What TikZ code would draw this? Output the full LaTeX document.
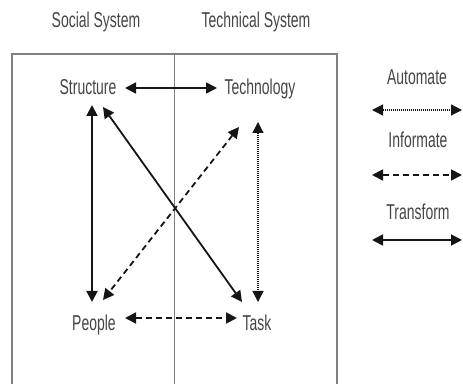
\documentclass[tikz,border=0pt]{standalone}
\usepackage{fontspec}
\usetikzlibrary{arrows.meta}
\newfontfamily\labelfont[FakeStretch=0.65]{Liberation Sans}
\definecolor{txtgray}{HTML}{454545}
\definecolor{framegray}{HTML}{808080}
\definecolor{inkblack}{HTML}{151515}
\begin{document}
\begin{tikzpicture}[x=1pt,y=1pt,
  lbl/.style={anchor=base,inner sep=0pt,text=txtgray,font=\labelfont\fontsize{21.5}{24}\selectfont},
  link/.style={draw=inkblack,line width=1.8pt,
    {Triangle[length=11pt,width=11pt]}-{Triangle[length=11pt,width=11pt]}},
  transformline/.style={link},
  informline/.style={link,dash pattern=on 6pt off 4pt},
  automateline/.style={link,line width=1.2pt,dash pattern=on 0.9pt off 1.1pt},
  frame/.style={draw=framegray,line width=1.3pt},
  divider/.style={draw=framegray,line width=0.8pt}]
\useasboundingbox (0,0) rectangle (463,383);

% column headings
\node[lbl] (social) at (96,355) {Social System};
\node[lbl] (technical) at (256,355) {Technical System};

% open frame and the social / technical split
\draw[frame] (12,-5) -- (12,329) -- (337,329) -- (337,-5);
\draw[divider] (174,329) -- (174,-5);

% the four elements
\node[lbl] (structure) at (88,288) {Structure};
\node[lbl] (technology) at (260,288) {Technology};
\node[lbl] (people) at (94,53) {People};
\node[lbl] (task) at (257,53) {Task};

% relations
\draw[transformline] ([shift={(37pt,7pt)}]structure.base) -- ([shift={(-43pt,7pt)}]technology.base);
\draw[transformline] ([shift={(4pt,-10pt)}]structure.base) -- ([shift={(-2pt,28pt)}]people.base);
\draw[transformline] ([shift={(15pt,-12pt)}]structure.base) -- ([shift={(-15pt,28pt)}]task.base);
\draw[informline] ([shift={(-21pt,-32pt)}]technology.base) -- ([shift={(9pt,30pt)}]people.base);
\draw[automateline] ([shift={(-2pt,-27pt)}]technology.base) -- ([shift={(1pt,28pt)}]task.base);
\draw[informline] ([shift={(31pt,12pt)}]people.base) -- ([shift={(-20pt,12pt)}]task.base);

% legend
\node[lbl] (automate) at (417,298) {Automate};
\node[lbl] (informate) at (418,235.5) {Informate};
\node[lbl] (transform) at (418,163.5) {Transform};
\coordinate (autoL) at (372,273);
\coordinate (autoR) at (462,273);
\coordinate (infoL) at (372,208);
\coordinate (infoR) at (462,208);
\coordinate (transL) at (372,143);
\coordinate (transR) at (462,143);
\draw[automateline] (autoL) -- (autoR);
\draw[informline] (infoL) -- (infoR);
\draw[transformline] (transL) -- (transR);
\end{tikzpicture}
\end{document}
